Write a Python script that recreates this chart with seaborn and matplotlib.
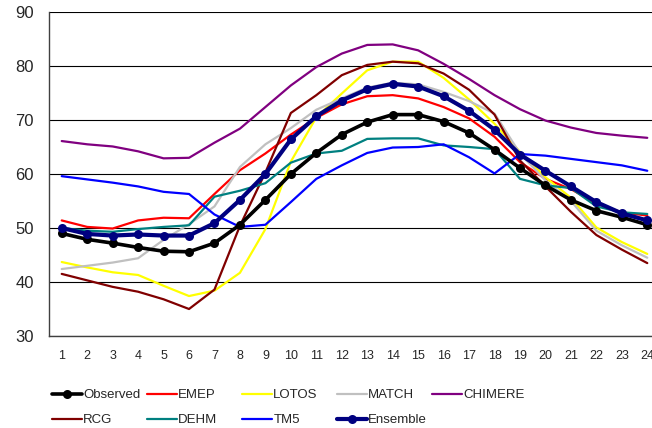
import matplotlib
matplotlib.use("Agg")
import matplotlib.pyplot as plt
import seaborn as sns
import pandas as pd
import numpy as np

hours = list(range(1, 25))

observed = [49.0, 47.9, 47.2, 46.4, 45.7, 45.6, 47.2, 50.6, 55.2, 60.0, 63.9, 67.3,
            69.6, 71.0, 71.0, 69.7, 67.6, 64.5, 61.1, 57.9, 55.2, 53.2, 52.0, 50.6]
emep = [51.4, 50.2, 49.9, 51.4, 51.9, 51.8, 56.3, 60.7, 63.8, 67.3, 70.4, 72.9,
        74.4, 74.6, 74.0, 72.4, 70.3, 66.9, 62.2, 59.1, 57.2, 54.5, 52.9, 52.3]
lotos = [43.7, 42.7, 41.8, 41.3, 39.3, 37.4, 38.4, 41.7, 49.8, 62.3, 70.5, 74.9,
         79.2, 80.8, 80.8, 77.8, 73.8, 69.3, 64.1, 59.4, 55.6, 50.1, 47.4, 45.2]
match = [42.4, 43.0, 43.6, 44.4, 47.8, 50.7, 54.0, 61.3, 65.5, 68.5, 71.9, 74.0,
         76.0, 76.9, 76.6, 75.2, 73.5, 71.2, 63.8, 58.8, 55.0, 49.5, 46.8, 44.5]
chimere = [66.1, 65.5, 65.1, 64.2, 62.9, 63.0, 65.8, 68.4, 72.4, 76.4, 79.8, 82.3,
           83.9, 84.0, 82.9, 80.4, 77.6, 74.6, 72.0, 69.9, 68.6, 67.6, 67.1, 66.7]
rcg = [41.5, 40.3, 39.1, 38.2, 36.8, 35.0, 38.6, 50.4, 60.3, 71.3, 74.6, 78.3,
       80.2, 80.8, 80.5, 78.6, 75.6, 71.0, 62.5, 57.7, 53.0, 48.7, 46.0, 43.5]
dehm = [50.0, 49.5, 49.3, 49.8, 50.2, 50.5, 55.8, 56.9, 58.3, 62.1, 63.8, 64.3,
        66.5, 66.6, 66.6, 65.3, 65.0, 64.6, 59.1, 57.9, 57.4, 54.0, 52.9, 52.6]
tm5 = [59.6, 59.0, 58.4, 57.7, 56.7, 56.3, 52.5, 50.2, 50.6, 54.8, 59.1, 61.6,
       63.9, 64.9, 65.0, 65.5, 63.1, 60.1, 63.7, 63.4, 62.8, 62.2, 61.6, 60.6]
ensemble = [50.0, 48.9, 48.6, 48.8, 48.6, 48.6, 50.9, 55.2, 60.0, 66.4, 70.7, 73.6,
            75.7, 76.7, 76.2, 74.4, 71.7, 68.2, 63.6, 60.6, 57.7, 54.8, 52.7, 51.4]

series_names = ["Observed", "EMEP", "LOTOS", "MATCH", "CHIMERE",
                "RCG", "DEHM", "TM5", "Ensemble"]
series_values = [observed, emep, lotos, match, chimere, rcg, dehm, tm5, ensemble]

colors = {"Observed": "#000000", "EMEP": "#FF0000", "LOTOS": "#FFFF00",
          "MATCH": "#C0C0C0", "CHIMERE": "#800080", "RCG": "#800000",
          "DEHM": "#008080", "TM5": "#0000FF", "Ensemble": "#000080"}

df = pd.DataFrame({"hour": np.tile(hours, len(series_names)),
                   "value": np.concatenate(series_values),
                   "series": np.repeat(series_names, len(hours))})

sns.set_style("white")
plt.rcParams["font.family"] = ["Liberation Sans", "DejaVu Sans"]

fig = plt.figure(figsize=(6.52, 4.28), dpi=100)
ax = fig.add_axes([49 / 652, (428 - 336) / 428, (660 - 49) / 652, (336 - 12) / 428])

draw_order = ["EMEP", "LOTOS", "MATCH", "CHIMERE", "RCG", "DEHM", "TM5",
              "Observed", "Ensemble"]
lines = {}
for z, name in enumerate(draw_order):
    sub = df[df["series"] == name]
    if name in ("Observed", "Ensemble"):
        kw = dict(marker="o", markersize=6.5, linewidth=2.6 if name == "Observed" else 3.0,
                  markeredgewidth=0)
    else:
        kw = dict(linewidth=1.6)
    sns.lineplot(data=sub, x="hour", y="value", color=colors[name], ax=ax,
                 legend=False, zorder=3 + z, **kw)
    lines[name] = ax.get_lines()[-1]

ax.set_xlim(0.5, 24.5)
ax.set_ylim(30, 90)
ax.set_xlabel("")
ax.set_ylabel("")

ax.set_yticks(range(30, 91, 10))
ax.set_xticks(hours)
ax.set_xticks(np.arange(0.5, 25, 1), minor=True)
ax.tick_params(axis="x", which="major", length=0, pad=10, labelsize=9)
ax.tick_params(axis="x", which="minor", length=4, width=1, color="#404040", direction="out")
ax.tick_params(axis="y", which="major", length=5, width=1, color="#404040",
               direction="out", labelsize=12, pad=6)

ax.yaxis.grid(True, color="black", linewidth=0.8)
ax.xaxis.grid(False)
ax.set_axisbelow(True)
for s in ["top", "right"]:
    ax.spines[s].set_visible(False)
for s in ["left", "bottom"]:
    ax.spines[s].set_color("#404040")
    ax.spines[s].set_linewidth(1.0)

# legend: one entry per small legend, placed in a 5-column grid
col_x = [52, 147, 242, 337, 432]
row_y = [395, 420]
for i, name in enumerate(series_names):
    r, c = divmod(i, 5)
    leg = fig.legend([lines[name]], [name], loc="center left",
                     bbox_to_anchor=(col_x[c] / 652, 1 - row_y[r] / 428),
                     bbox_transform=fig.transFigure, frameon=False,
                     fontsize=9.5, handlelength=2.27, handletextpad=0.1,
                     borderpad=0, borderaxespad=0, numpoints=1)

fig.savefig("out.png", dpi=100)
